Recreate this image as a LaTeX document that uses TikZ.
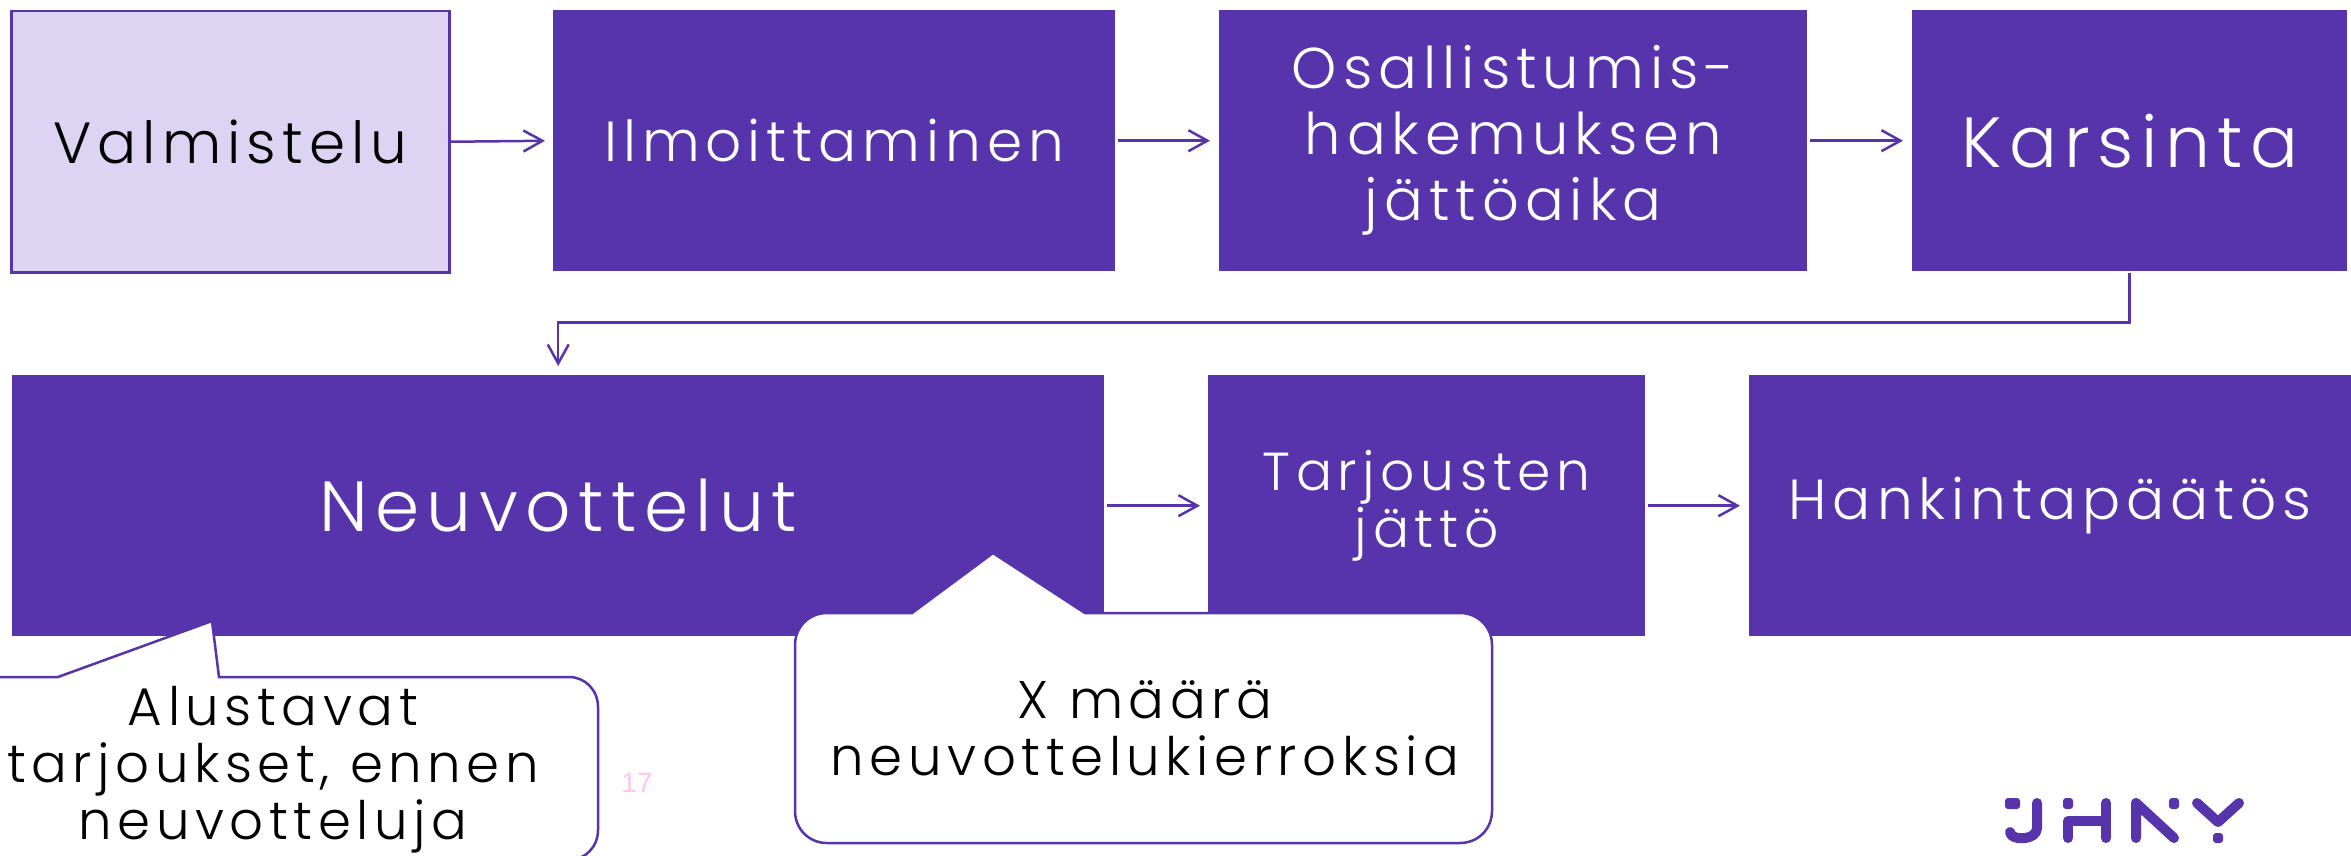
\documentclass[tikz,border=0pt]{standalone}
\usepackage{fontspec}
\usetikzlibrary{arrows.meta}
\setmainfont{Poppins}[UprightFont=* Light,LetterSpace=10.5]
\newfontfamily\pagefont{Liberation Sans}
\definecolor{jp}{HTML}{5734AC}
\definecolor{jl}{HTML}{DDD3F2}
\definecolor{jpink}{HTML}{FFC4F0}
\newcommand{\fs}[2]{\fontsize{#1}{#2}\selectfont}
\tikzset{
  box/.style={fill=jp,draw=none,inner sep=0pt,text=white,align=center,anchor=north west},
  lightbox/.style={fill=jl,draw=jp,line width=2.5pt,inner sep=0pt,text=black,align=center,anchor=north west},
  flow/.style={draw=jp,line width=2.5pt,-{Straight Barb[length=19pt,width=21pt,line width=2.5pt]}},
  callout/.style={fill=white,draw=jp,line width=2.5pt},
  calltext/.style={text=black,align=center,inner sep=0pt},
  logo/.style={draw=jp,line width=10pt,line cap=round,line join=round},
  logodot/.style={fill=jp,draw=none,rounded corners=3pt}
}
\begin{document}
\begin{tikzpicture}[x=1pt,y=-1pt]
\useasboundingbox (0,0) rectangle (2351,856);
\clip (0,0) rectangle (2351,856);
\node[lightbox,font=\fs{58}{66},minimum width=438pt,minimum height=261pt] (val) at (10,10) {Valmistelu};
\node[box,font=\fs{56.5}{66},minimum width=562pt,minimum height=261pt] (ilm) at (553,10) {Ilmoittaminen};
\node[box,font=\fs{57.5}{66},minimum width=588pt,minimum height=261pt] (osa) at (1219,10) {Osallistumis-\\hakemuksen\\jättöaika};
\node[box,font=\fs{71}{80},minimum width=435pt,minimum height=261pt] (kar) at (1912,10) {Karsinta};
\node[box,font=\fs{71}{80},minimum width=1092pt,minimum height=261pt] (neu) at (12,375) {Neuvottelut};
\node[box,font=\fs{53.5}{57},minimum width=437pt,minimum height=261pt] (tar) at (1208,375) {Tarjousten\\jättö};
\node[box,font=\fs{56.5}{66},minimum width=602pt,minimum height=261pt] (han) at (1749,375) {Hankintapäätös};
\draw[flow,shorten >=8pt] (val.east) -- (ilm.west);
\draw[flow,shorten <=3pt,shorten >=9pt] (ilm.east) -- (osa.west);
\draw[flow,shorten <=3pt,shorten >=9pt] (osa.east) -- (kar.west);
\draw[flow,shorten <=2pt,shorten >=9pt] (kar.south) -- ++(0,51) -| (neu.north);
\draw[flow,shorten <=3pt,shorten >=8pt] (neu.east) -- (tar.west);
\draw[flow,shorten <=3pt,shorten >=9pt] (tar.east) -- (han.west);
% callouts
\draw[callout] (-52,677) -- (58,677) -- (212,621) -- (219,677) -- (569,677)
  .. controls (585,677) and (598,690) .. (598,707) -- (598,830)
  .. controls (598,847) and (585,860) .. (569,860) -- (-52,860) -- cycle;
\node[calltext,font=\fs{53}{57}] (c1) at (273,770) {Alustavat\\tarjoukset, ennen\\neuvotteluja};
\draw[callout] (827,613) -- (912,613) -- (993,553) -- (1085,613) -- (1460,613)
  .. controls (1478,613) and (1492,627) .. (1492,645) -- (1492,811)
  .. controls (1492,829) and (1478,843) .. (1460,843) -- (827,843)
  .. controls (809,843) and (795,829) .. (795,811) -- (795,645)
  .. controls (795,627) and (809,613) .. (827,613) -- cycle;
\node[calltext,font=\fs{53}{57}] (c2) at (1145,728) {X määrä\\neuvottelukierroksia};
\node[text=jpink,inner sep=0pt,font=\pagefont\fs{28}{30}] (pg) at (637,783) {17};
% logo
\fill[logodot] (2005,798) rectangle (2020,809);
\draw[logo] (2037,803) -- (2037,828) .. controls (2037,841) and (2010,841) .. (2010,832);
\fill[logodot] (2063,798) rectangle (2073,809);
\draw[logo] (2068,838) -- (2068,821) -- (2106,821);
\draw[logo] (2106,803) -- (2106,838);
\draw[logo] (2136,838) -- (2136,803) -- (2174,838);
\fill[logodot] (2169,798) rectangle (2179,809);
\draw[logo] (2197,803) -- (2218,822) -- (2239,803);
\fill[logodot] (2213,833) rectangle (2223,843);
\end{tikzpicture}
\end{document}
